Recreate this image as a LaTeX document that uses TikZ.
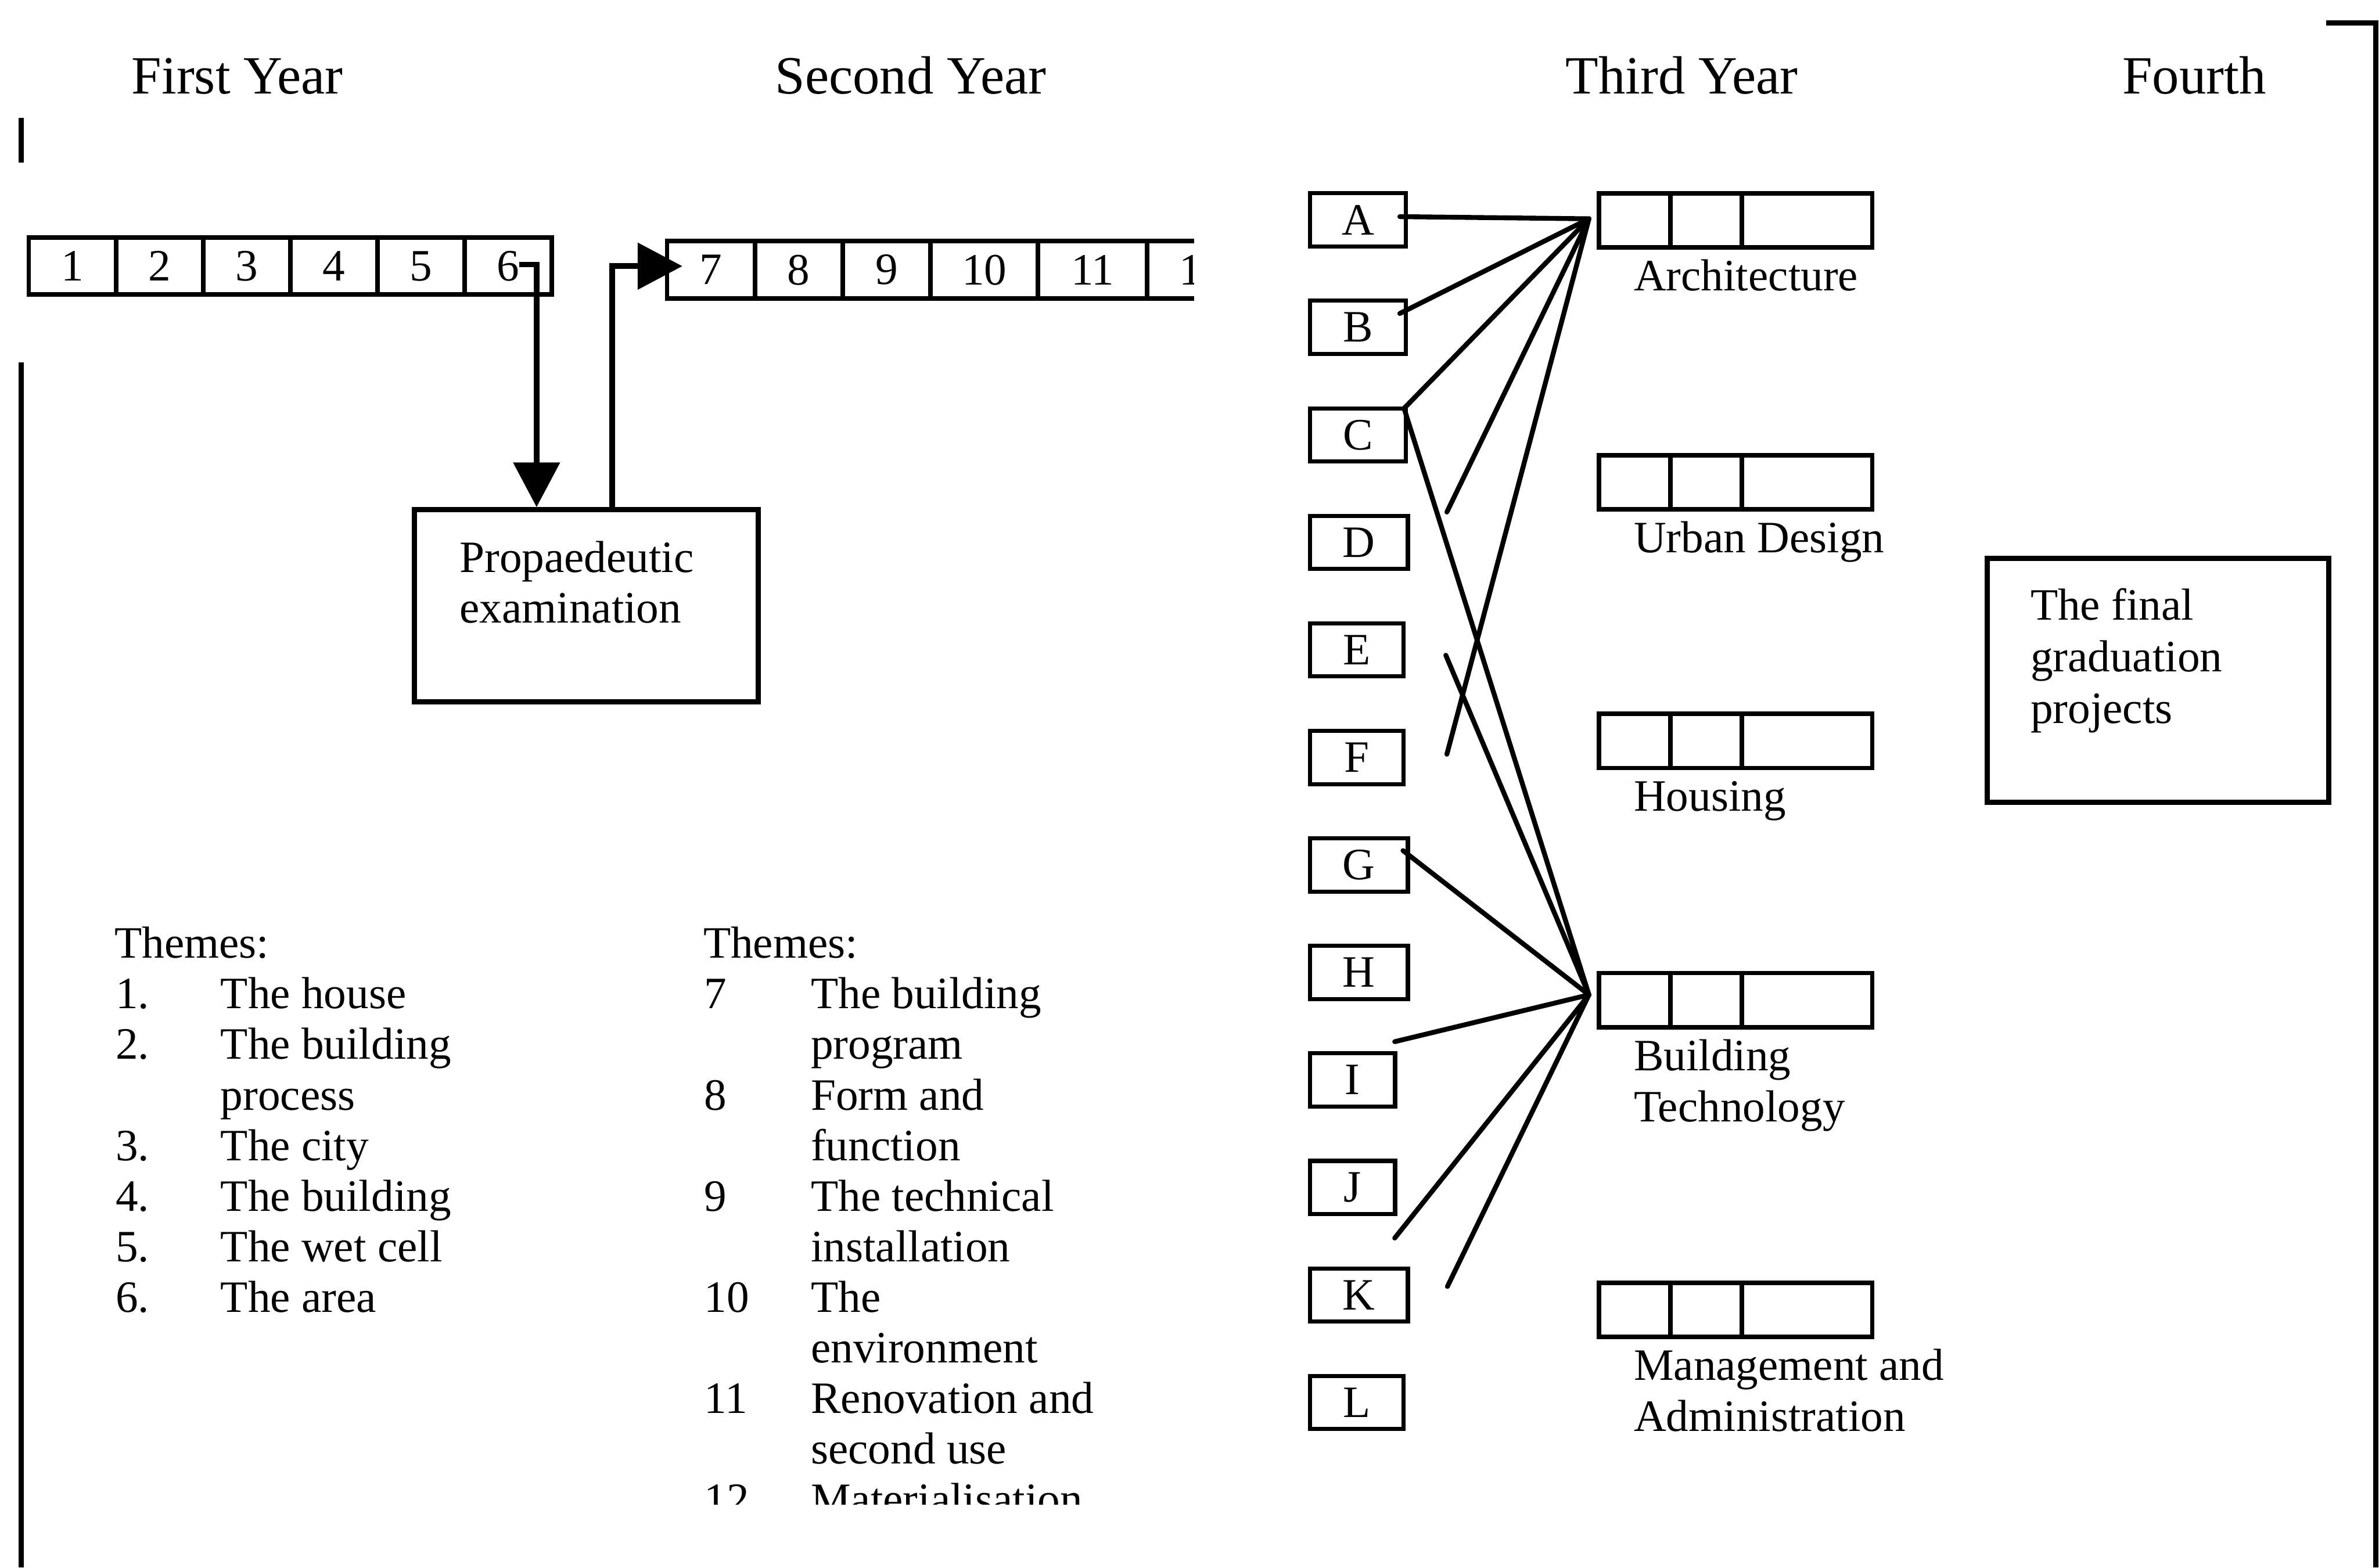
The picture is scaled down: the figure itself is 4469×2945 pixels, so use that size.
\documentclass[tikz,border=0pt]{standalone}
\usepackage{fontspec}
\setmainfont{Liberation Serif}
\usetikzlibrary{arrows.meta}

\begin{document}
\begin{tikzpicture}[x=0.005cm,y=-0.005cm,
    every node/.style={font=\fontsize{12}{14.4}\selectfont},
    cell/.style={draw,line width=1.2pt,minimum height=0.535cm,inner sep=0},
    lbox/.style={draw,line width=1.1pt,minimum height=0.5cm,inner sep=0},
    bigbox/.style={draw,line width=1.4pt,inner sep=0},
    txt/.style={inner sep=0,anchor=base west},
    head/.style={inner sep=0,anchor=base,font=\fontsize{14.4}{17}\selectfont},
    flow/.style={line width=1.5pt,-{Triangle[length=0.42cm,width=0.43cm]}},
    link/.style={line width=1.3pt,line cap=round}]
  \useasboundingbox (0,0) rectangle (4469,2945);
  % frame
  \draw[line width=1.4pt] (40,221) -- (40,306);
  \draw[line width=1.4pt] (40,681) -- (40,2945);
  \draw[line width=1.5pt] (4370,43) -- (4463,43) -- (4463,2945);
  % years
  \node[head] (year1) at (446,176) {First Year};
  \node[head] (year2) at (1711,176) {Second Year};
  \node[head] (year3) at (3159,176) {Third Year};
  \node[head] (year4) at (4122,176) {Fourth};
  % first year blocks
  \foreach \i in {1,...,6}
    \node[cell,minimum width=0.819cm] (t\i) at (54+163.8*\i-81.9,500) {\i};
  % second year blocks
  \begin{scope}
    \clip (1200,400) rectangle (2243,620);
    \foreach \i/\x/\w in {7/1335.5/0.825,8/1500.5/0.825,9/1665.5/0.825,10/1849/1.01,11/2052.5/1.025,12/2257.5/1.025}
      \node[cell,minimum width=\w cm,minimum height=0.54cm] (t\i) at (\x,507) {\i};
  \end{scope}
  % propaedeutic
  \node[bigbox,minimum width=3.235cm,minimum height=1.805cm] (prop) at (1101.5,1138) {};
  \node[txt] (prop1) at (862,1075) {Propaedeutic};
  \node[txt] (prop2) at (862,1170) {examination};
  \draw[flow] ([shift={(20,-3)}]t6.center) -| ([shift={(-93.5,0)}]prop.north);
  \draw[flow] ([shift={(48.5,0)}]prop.north) |- ([shift={(33,-7)}]t7.west);
  % themes
  \node[txt] (fth) at (214,1800) {Themes:};
  \foreach \n/\t [count=\k] in {1./The house,2./The building,/process,3./The city,4./The building,5./The wet cell,6./The area} {
    \node[txt] (fn\k) at (216,1800+95*\k) {\n};
    \node[txt] (ft\k) at (413,1800+95*\k) {\t};
  }
  \begin{scope}
    \clip (1200,1700) rectangle (2300,2826);
    \node[txt] (sth) at (1320,1800) {Themes:};
    \foreach \n/\t [count=\k] in {7/The building,/program,8/Form and,/function,9/The technical,/installation,10/The,/environment,11/Renovation and,/second use,12/Materialisation} {
      \node[txt] (sn\k) at (1322,1800+95*\k) {\n};
      \node[txt] (st\k) at (1522,1800+95*\k) {\t};
    }
  \end{scope}
  % third year
  \foreach \l/\w [count=\i from 0] in {A/0.9,B/0.9,C/0.9,D/0.92,E/0.88,F/0.88,G/0.92,H/0.92,I/0.8,J/0.8,K/0.92,L/0.88}
    \node[lbox,minimum width=\w cm,anchor=west] (\l) at (2457,413+202*\i) {\l};
  \foreach \n/\y in {arch/414,urb/906,hou/1392,bt/1879,mgt/2461} {
    \node[cell,minimum width=0.67cm,minimum height=0.51cm] (\n1) at (3071,\y) {};
    \node[cell,minimum width=0.67cm,minimum height=0.51cm] (\n2) at (3205,\y) {};
    \node[cell,minimum width=1.225cm,minimum height=0.51cm] (\n3) at (3394.5,\y) {};
  }
  \node[txt] (archlbl) at ([shift={(68,77)}]arch1.south west) {Architecture};
  \node[txt] (urblbl) at ([shift={(68,77)}]urb1.south west) {Urban Design};
  \node[txt] (houlbl) at ([shift={(68,77)}]hou1.south west) {Housing};
  \node[txt] (btlbl) at ([shift={(68,77)}]bt1.south west) {Building};
  \node[txt] (btlbl2) at ([shift={(0,96)}]btlbl.base west) {Technology};
  \node[txt] (mgtlbl) at ([shift={(68,77)}]mgt1.south west) {Management and};
  \node[txt] (mgtlbl2) at ([shift={(0,96)}]mgtlbl.base west) {Administration};
  % links
  \coordinate (archhub) at ([shift={(-15,-3)}]arch1.west);
  \coordinate (bthub) at ([shift={(-15,-10)}]bt1.west);
  \coordinate (dend) at (2718,962);
  \coordinate (fend) at (2718,1417);
  \coordinate (eend) at (2716,1231);
  \coordinate (iend) at (2620,1957);
  \coordinate (jend) at (2620,2326);
  \coordinate (kend) at (2719,2417);
  \draw[link] ([shift={(-15,-6)}]A.east) -- (archhub);
  \draw[link] ([shift={(-15,-26)}]B.east) -- (archhub);
  \draw[link] ([shift={(-7,4)}]C.north east) -- (archhub);
  \draw[link] (dend) -- (archhub);
  \draw[link] (fend) -- (archhub);
  \draw[link] ([shift={(-7,4)}]C.north east) -- (bthub);
  \draw[link] (eend) -- (bthub);
  \draw[link] ([shift={(-13,-27)}]G.east) -- (bthub);
  \draw[link] (iend) -- (bthub);
  \draw[link] (jend) -- (bthub);
  \draw[link] (kend) -- (bthub);
  % fourth year
  \node[bigbox,minimum width=3.21cm,minimum height=2.295cm] (final) at (4054,1278) {};
  \node[txt] (fin1) at (3813,1165) {The final};
  \node[txt] (fin2) at (3813,1262) {graduation};
  \node[txt] (fin3) at (3813,1359) {projects};
\end{tikzpicture}
\end{document}
